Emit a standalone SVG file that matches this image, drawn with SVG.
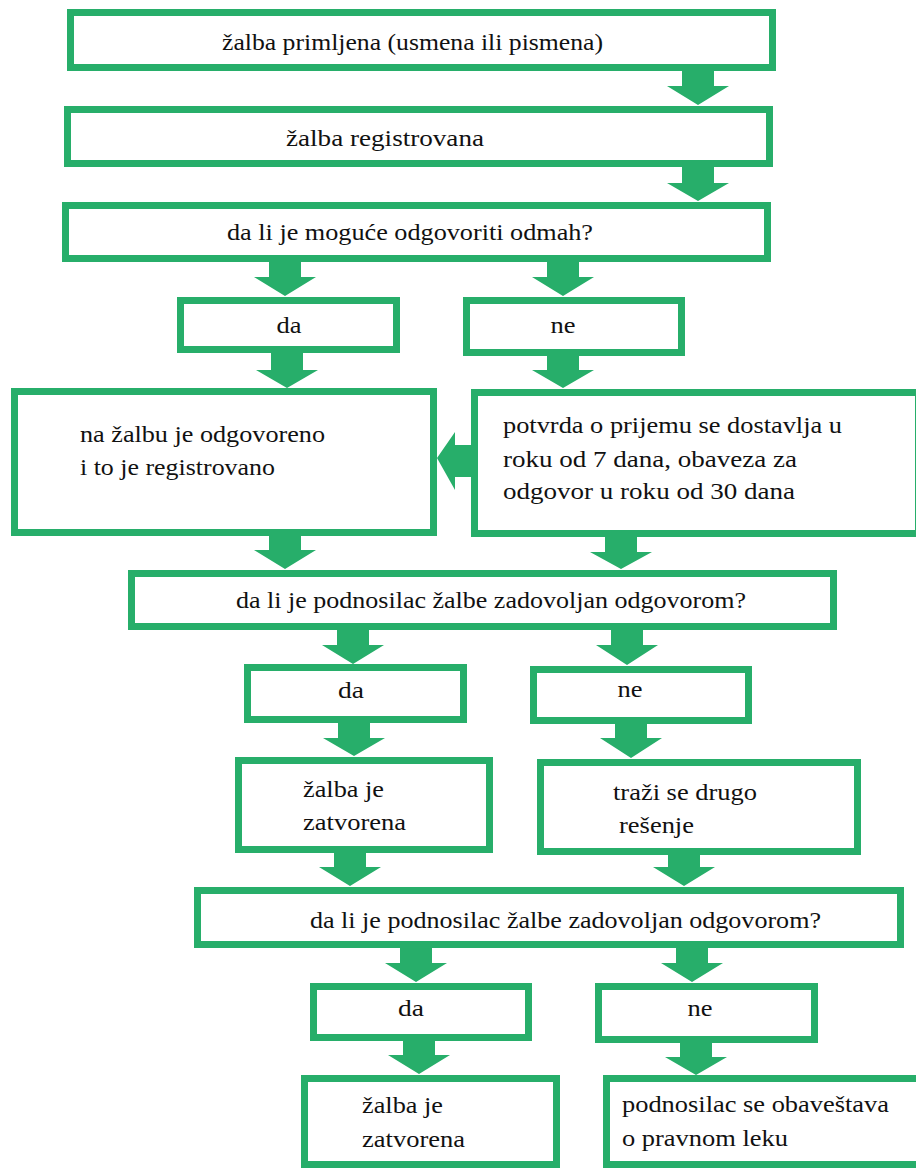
<svg xmlns="http://www.w3.org/2000/svg" width="916" height="1168" viewBox="0 0 916 1168">
<style>
.box{fill:#fff;stroke:#27ae6a;stroke-width:7}
.arr{fill:#27ae6a;stroke:none}
text{font-family:"Liberation Serif","Times New Roman",serif;font-size:23px;fill:#111}
.c{text-anchor:middle}
</style>
<rect width="916" height="1168" fill="#fff"/>
<g id="connectors">
<path class="arr" d="M682,69 H714 V86 H729 L698,105 L667,86 H682 Z"/>
<path class="arr" d="M682,165 H714 V183 H729 L698,201 L667,183 H682 Z"/>
<path class="arr" d="M269,260 H301 V277 H316 L285,296 L254,277 H269 Z"/>
<path class="arr" d="M547,260 H579 V277 H594 L563,296 L532,277 H547 Z"/>
<path class="arr" d="M271,351 H303 V370 H318 L287,388 L256,370 H271 Z"/>
<path class="arr" d="M547,354 H579 V370 H594 L563,388 L532,370 H547 Z"/>
<path class="arr" d="M473,445 V477 H455 V490 L437,458 L455,432 V445 Z"/>
<path class="arr" d="M269,534 H301 V550 H316 L285,569 L254,550 H269 Z"/>
<path class="arr" d="M605,535 H637 V552 H652 L621,569 L590,552 H605 Z"/>
<path class="arr" d="M337,628 H369 V645 H384 L353,664 L322,645 H337 Z"/>
<path class="arr" d="M611,628 H643 V645 H658 L627,665 L596,645 H611 Z"/>
<path class="arr" d="M338,721 H370 V738 H385 L354,756 L323,738 H338 Z"/>
<path class="arr" d="M615,722 H647 V738 H662 L631,758 L600,738 H615 Z"/>
<path class="arr" d="M334,851 H366 V867 H381 L350,886 L319,867 H334 Z"/>
<path class="arr" d="M668,853 H700 V867 H715 L684,886 L653,867 H668 Z"/>
<path class="arr" d="M400,946 H432 V963 H447 L416,982 L385,963 H400 Z"/>
<path class="arr" d="M676,946 H708 V963 H723 L692,982 L661,963 H676 Z"/>
<path class="arr" d="M403,1039 H435 V1055 H450 L419,1074 L388,1055 H403 Z"/>
<path class="arr" d="M680,1041 H712 V1057 H727 L696,1075 L665,1057 H680 Z"/>
</g>
<g id="n1"><rect class="box" x="70.5" y="12.5" width="702" height="55"/><text x="222" y="50" textLength="381" lengthAdjust="spacingAndGlyphs">žalba primljena (usmena ili pismena)</text></g>
<g id="n2"><rect class="box" x="67.5" y="109.5" width="702" height="54"/><text x="286" y="146" textLength="198" lengthAdjust="spacingAndGlyphs">žalba registrovana</text></g>
<g id="n3"><rect class="box" x="65.5" y="205.5" width="702" height="53"/><text x="227" y="240" textLength="366" lengthAdjust="spacingAndGlyphs">da li je moguće odgovoriti odmah?</text></g>
<g id="n4"><rect class="box" x="180.5" y="300.5" width="216" height="49"/><text class="c" x="289" y="333" textLength="25" lengthAdjust="spacingAndGlyphs">da</text></g>
<g id="n5"><rect class="box" x="466.5" y="300.5" width="215" height="52"/><text class="c" x="563" y="333" textLength="25" lengthAdjust="spacingAndGlyphs">ne</text></g>
<g id="n6"><rect class="box" x="14.5" y="391.5" width="419" height="141"/><text x="80" y="442" textLength="245" lengthAdjust="spacingAndGlyphs">na žalbu je odgovoreno</text><text x="80" y="475" textLength="195" lengthAdjust="spacingAndGlyphs">i to je registrovano</text></g>
<g id="n7"><rect class="box" x="474.5" y="392.5" width="444" height="141"/><text x="503" y="433" textLength="339" lengthAdjust="spacingAndGlyphs">potvrda o prijemu se dostavlja u</text><text x="503" y="467" textLength="294" lengthAdjust="spacingAndGlyphs">roku od 7 dana, obaveza za</text><text x="503" y="499" textLength="292" lengthAdjust="spacingAndGlyphs">odgovor u roku od 30 dana</text></g>
<g id="n8"><rect class="box" x="131.5" y="573.5" width="702" height="53"/><text x="236" y="608" textLength="510" lengthAdjust="spacingAndGlyphs">da li je podnosilac žalbe zadovoljan odgovorom?</text></g>
<g id="n9"><rect class="box" x="247.5" y="667.5" width="216" height="52"/><text class="c" x="351" y="698" textLength="26" lengthAdjust="spacingAndGlyphs">da</text></g>
<g id="n10"><rect class="box" x="533.5" y="669.5" width="215" height="51"/><text class="c" x="630" y="697" textLength="25" lengthAdjust="spacingAndGlyphs">ne</text></g>
<g id="n11"><rect class="box" x="238.5" y="760.5" width="251" height="89"/><text x="303" y="797" textLength="81" lengthAdjust="spacingAndGlyphs">žalba je</text><text x="303" y="830" textLength="103" lengthAdjust="spacingAndGlyphs">zatvorena</text></g>
<g id="n12"><rect class="box" x="540.5" y="762.5" width="317" height="89"/><text x="613" y="800" textLength="144" lengthAdjust="spacingAndGlyphs">traži se drugo</text><text x="619" y="833" textLength="75" lengthAdjust="spacingAndGlyphs">rešenje</text></g>
<g id="n13"><rect class="box" x="197.5" y="890.5" width="703" height="54"/><text x="310" y="928" textLength="511" lengthAdjust="spacingAndGlyphs">da li je podnosilac žalbe zadovoljan odgovorom?</text></g>
<g id="n14"><rect class="box" x="313.5" y="986.5" width="215" height="51"/><text class="c" x="411" y="1016" textLength="26" lengthAdjust="spacingAndGlyphs">da</text></g>
<g id="n15"><rect class="box" x="598.5" y="986.5" width="216" height="53"/><text class="c" x="700" y="1016" textLength="25" lengthAdjust="spacingAndGlyphs">ne</text></g>
<g id="n16"><rect class="box" x="304.5" y="1078.5" width="252" height="86"/><text x="362" y="1113" textLength="81" lengthAdjust="spacingAndGlyphs">žalba je</text><text x="362" y="1147" textLength="103" lengthAdjust="spacingAndGlyphs">zatvorena</text></g>
<g id="n17"><rect class="box" x="606.5" y="1078.5" width="330" height="86"/><text x="622" y="1112" textLength="267" lengthAdjust="spacingAndGlyphs">podnosilac se obaveštava</text><text x="622" y="1146" textLength="166" lengthAdjust="spacingAndGlyphs">o pravnom leku</text></g>
</svg>
